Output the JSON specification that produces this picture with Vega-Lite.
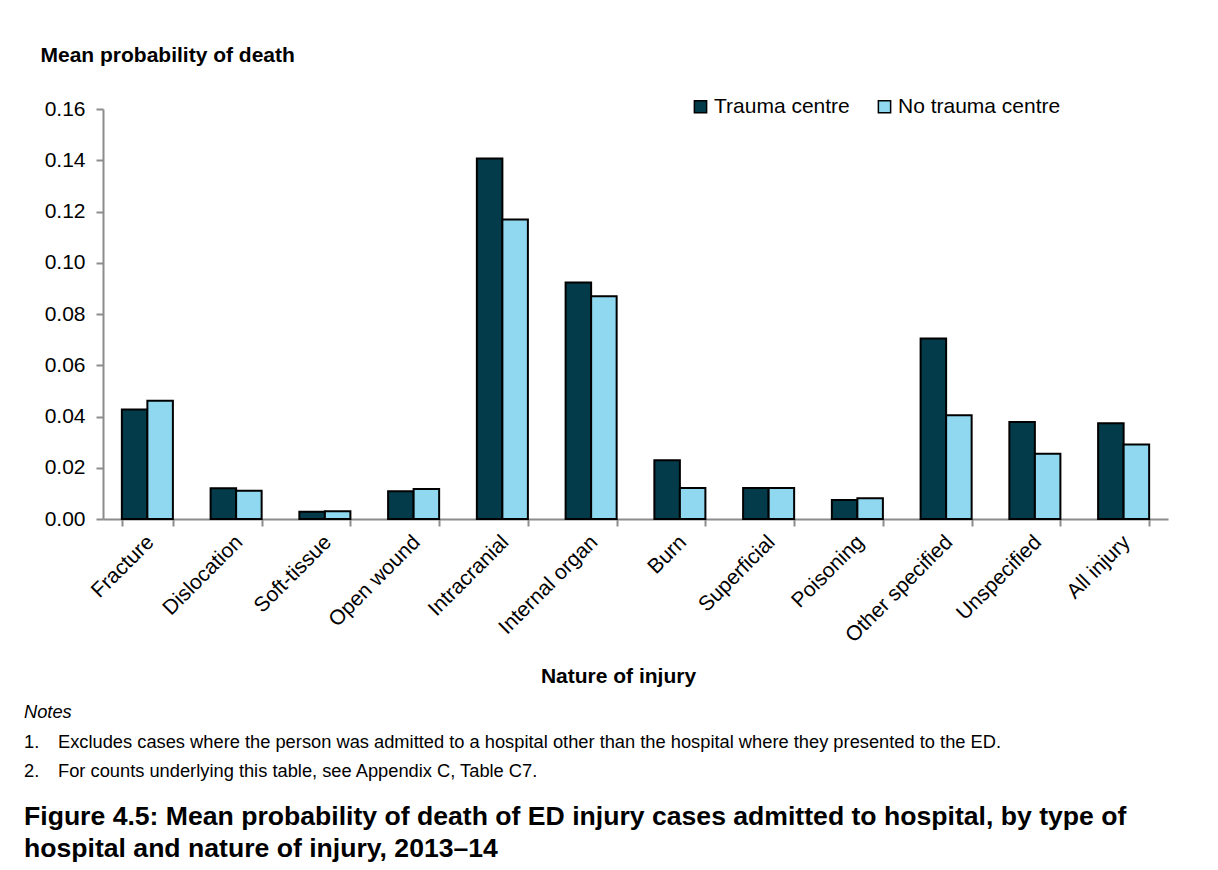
{
  "$schema": "https://vega.github.io/schema/vega-lite/v6.json",
  "background": "white",
  "autosize": {"type": "pad"},
  "padding": {"left": 24, "top": 44, "right": 10, "bottom": 8},
  "bounds": "flush",
  "spacing": 194,
  "config": {
    "font": "Liberation Sans",
    "view": {"stroke": null},
    "axis": {"labelColor": "black", "titleColor": "black", "labelFont": "Liberation Sans", "titleFont": "Liberation Sans"}
  },
  "title": {
    "text": ["Figure 4.5: Mean probability of death of ED injury cases admitted to hospital, by type of", "hospital and nature of injury, 2013–14"],
    "orient": "bottom",
    "anchor": "start",
    "frame": "bounds",
    "font": "Liberation Sans",
    "fontSize": 26.6,
    "fontWeight": "bold",
    "color": "black",
    "lineHeight": 32,
    "offset": 24
  },
  "datasets": {
    "bars": [
      {"injury": "Fracture", "hospital": "Trauma centre", "value": 0.0427},
      {"injury": "Fracture", "hospital": "No trauma centre", "value": 0.0461},
      {"injury": "Dislocation", "hospital": "Trauma centre", "value": 0.0120},
      {"injury": "Dislocation", "hospital": "No trauma centre", "value": 0.0110},
      {"injury": "Soft-tissue", "hospital": "Trauma centre", "value": 0.0028},
      {"injury": "Soft-tissue", "hospital": "No trauma centre", "value": 0.0030},
      {"injury": "Open wound", "hospital": "Trauma centre", "value": 0.0108},
      {"injury": "Open wound", "hospital": "No trauma centre", "value": 0.0117},
      {"injury": "Intracranial", "hospital": "Trauma centre", "value": 0.1407},
      {"injury": "Intracranial", "hospital": "No trauma centre", "value": 0.1169},
      {"injury": "Internal organ", "hospital": "Trauma centre", "value": 0.0923},
      {"injury": "Internal organ", "hospital": "No trauma centre", "value": 0.0869},
      {"injury": "Burn", "hospital": "Trauma centre", "value": 0.0229},
      {"injury": "Burn", "hospital": "No trauma centre", "value": 0.0121},
      {"injury": "Superficial", "hospital": "Trauma centre", "value": 0.0121},
      {"injury": "Superficial", "hospital": "No trauma centre", "value": 0.0121},
      {"injury": "Poisoning", "hospital": "Trauma centre", "value": 0.0074},
      {"injury": "Poisoning", "hospital": "No trauma centre", "value": 0.0081},
      {"injury": "Other specified", "hospital": "Trauma centre", "value": 0.0704},
      {"injury": "Other specified", "hospital": "No trauma centre", "value": 0.0405},
      {"injury": "Unspecified", "hospital": "Trauma centre", "value": 0.0379},
      {"injury": "Unspecified", "hospital": "No trauma centre", "value": 0.0255},
      {"injury": "All injury", "hospital": "Trauma centre", "value": 0.0374},
      {"injury": "All injury", "hospital": "No trauma centre", "value": 0.0291}
    ],
    "notes": [
      {"line": 0, "num": "", "text": "Notes"},
      {"line": 1, "num": "1.", "text": "Excludes cases where the person was admitted to a hospital other than the hospital where they presented to the ED."},
      {"line": 2, "num": "2.", "text": "For counts underlying this table, see Appendix C, Table C7."}
    ]
  },
  "vconcat": [
    {
      "width": 1065,
      "height": 410,
      "data": {"name": "bars"},
      "mark": {"type": "bar", "stroke": "black", "strokeWidth": 2},
      "encoding": {
        "x": {
          "field": "injury",
          "type": "nominal",
          "sort": null,
          "scale": {"paddingInner": 0.425, "paddingOuter": 0.2125},
          "axis": {
            "title": "Nature of injury",
            "titleFontSize": 21,
            "titleFontWeight": "bold",
            "titleX": 515,
            "titleY": 157,
            "titleAlign": "center",
            "titleBaseline": "middle",
            "labelAngle": -45,
            "labelFontSize": 21,
            "labelPadding": 5,
            "labelOffset": -5,
            "tickBand": "extent",
            "tickSize": 7,
            "tickColor": "#8c8c8c",
            "tickWidth": 2,
            "domainColor": "#8c8c8c",
            "domainWidth": 2,
            "grid": false
          }
        },
        "xOffset": {
          "field": "hospital",
          "type": "nominal",
          "sort": ["Trauma centre", "No trauma centre"],
          "scale": {"paddingInner": 0, "paddingOuter": 0}
        },
        "y": {
          "field": "value",
          "type": "quantitative",
          "scale": {"domain": [0, 0.16], "nice": false},
          "axis": {
            "title": "Mean probability of death",
            "titleAngle": 0,
            "titleFontSize": 21,
            "titleFontWeight": "bold",
            "titleX": -63,
            "titleY": -54,
            "titleAlign": "left",
            "titleBaseline": "middle",
            "values": [0, 0.02, 0.04, 0.06, 0.08, 0.1, 0.12, 0.14, 0.16],
            "format": ".2f",
            "labelFontSize": 21,
            "labelPadding": 11,
            "tickSize": 7,
            "tickColor": "#8c8c8c",
            "tickWidth": 2,
            "domainColor": "#8c8c8c",
            "domainWidth": 2,
            "grid": false
          }
        },
        "fill": {
          "field": "hospital",
          "type": "nominal",
          "sort": ["Trauma centre", "No trauma centre"],
          "scale": {"domain": ["Trauma centre", "No trauma centre"], "range": ["#033b4b", "#8fd8f0"]},
          "legend": {
            "title": null,
            "orient": "none",
            "direction": "horizontal",
            "legendX": 587,
            "legendY": -13,
            "padding": 0,
            "symbolType": "square",
            "symbolSize": 150,
            "symbolStrokeColor": "black",
            "symbolStrokeWidth": 1.5,
            "symbolOpacity": 1,
            "labelFontSize": 21,
            "labelColor": "black",
            "labelLimit": 0,
            "labelOffset": 3,
            "columnPadding": 24
          }
        }
      }
    },
    {
      "width": 1065,
      "height": 59,
      "data": {"name": "notes"},
      "encoding": {
        "x": {"datum": "left", "type": "nominal", "scale": {"type": "point", "align": 0, "padding": 0}, "axis": null},
        "y": {"field": "line", "type": "ordinal", "scale": {"type": "point", "padding": 0}, "axis": null}
      },
      "layer": [
        {
          "transform": [{"filter": "datum.line == 0"}],
          "mark": {"type": "text", "align": "left", "baseline": "middle", "dx": -79, "fontSize": 18.3, "fontStyle": "italic", "color": "black"},
          "encoding": {"text": {"field": "text"}}
        },
        {
          "transform": [{"filter": "datum.line > 0"}],
          "mark": {"type": "text", "align": "left", "baseline": "middle", "dx": -79, "fontSize": 18.3, "color": "black"},
          "encoding": {"text": {"field": "num"}}
        },
        {
          "transform": [{"filter": "datum.line > 0"}],
          "mark": {"type": "text", "align": "left", "baseline": "middle", "dx": -45, "fontSize": 18.3, "color": "black"},
          "encoding": {"text": {"field": "text"}}
        }
      ]
    }
  ]
}
